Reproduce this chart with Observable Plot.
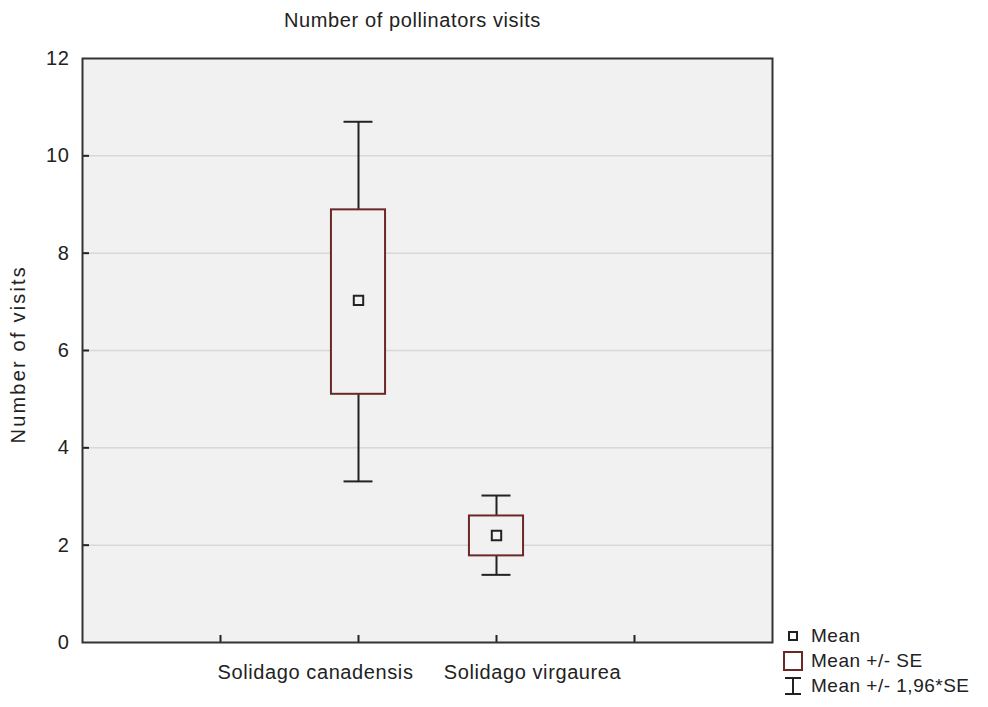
<!DOCTYPE html>
<html>
<head>
<meta charset="utf-8">
<script src="https://cdn.jsdelivr.net/npm/d3@7"></script>
<script src="https://cdn.jsdelivr.net/npm/@observablehq/plot@0.6"></script>
<style>
  html, body { margin: 0; padding: 0; background: #ffffff; }
  #wrap { position: relative; width: 988px; height: 707px; font-family: "Liberation Sans", Arial, sans-serif; color: #222; }
  #legend { position: absolute; left: 782px; top: 623px; font-size: 19px; letter-spacing: 0.5px; line-height: 26px; }
  #legend .row { display: flex; align-items: center; height: 25px; }
  #legend svg { width: 22px; height: 22px; margin-right: 7px; flex: none; }
</style>
</head>
<body>
<div id="wrap"><div id="legend"></div></div>
<script>
// ---- data ----
const categories = ["Solidago canadensis", "Solidago virgaurea"];
const means = [7.03, 2.20];
const seLow = [5.10, 1.78];
const seHigh = [8.89, 2.60];
const ciLow = [3.31, 1.39];
const ciHigh = [10.70, 3.02];
const yTicks = [0, 2, 4, 6, 8, 10, 12];
const xTicks = [1, 2, 3, 4];
const title = "Number of pollinators visits";
const yLabel = "Number of visits";
const legendLabels = ["Mean", "Mean +/- SE", "Mean +/- 1,96*SE"];

const rows = categories.map((c, i) => ({
  cat: c, pos: i + 2, mean: means[i], seLow: seLow[i], seHigh: seHigh[i], ciLow: ciLow[i], ciHigh: ciHigh[i]
}));

const W = 988, H = 707, mL = 82, mR = 216, mT = 58, mB = 65;
const plotW = W - mL - mR, plotH = H - mT - mB;
const boxHalf = 0.196, capHalf = 0.105;
const fs = 20;
const ink = "#222";
const boxColor = "#6b2828";
const bg = "#f1f1f1";

const chart = Plot.plot({
  width: W, height: H,
  marginLeft: mL, marginRight: mR, marginTop: mT, marginBottom: mB,
  style: { fontFamily: '"Liberation Sans", Arial, sans-serif', fontSize: fs + "px", color: ink, background: "transparent", letterSpacing: "0.6px" },
  x: { domain: [0, 5] },
  y: { domain: [0, 12] },
  marks: [
    Plot.frame({ fill: bg, stroke: null }),
    Plot.gridY(yTicks.filter(d => d > 0 && d < 12), { stroke: "#d8d8d8", strokeOpacity: 1, strokeWidth: 1.5 }),
    Plot.ruleX(rows, { x: "pos", y1: "ciLow", y2: "ciHigh", stroke: ink, strokeWidth: 2 }),
    Plot.ruleY(rows, { y: "ciHigh", x1: d => d.pos - capHalf, x2: d => d.pos + capHalf, stroke: ink, strokeWidth: 2 }),
    Plot.ruleY(rows, { y: "ciLow", x1: d => d.pos - capHalf, x2: d => d.pos + capHalf, stroke: ink, strokeWidth: 2 }),
    Plot.rect(rows, { x1: d => d.pos - boxHalf, x2: d => d.pos + boxHalf, y1: "seLow", y2: "seHigh", fill: bg, stroke: boxColor, strokeWidth: 2 }),
    Plot.dot(rows, { x: "pos", y: "mean", symbol: "square", r: 5.3, fill: bg, stroke: ink, strokeWidth: 2 }),
    Plot.tickY(yTicks.filter(d => d > 0 && d < 12), { y: d => d, insetRight: plotW - 7, stroke: ink, strokeWidth: 2 }),
    Plot.tickX(xTicks, { x: d => d, insetTop: plotH - 7, stroke: ink, strokeWidth: 2 }),
    Plot.frame({ stroke: "#333", strokeWidth: 2 }),
    Plot.axisY(yTicks, { tickSize: 0, tickPadding: 13, label: null, fontSize: fs, fill: ink }),
    Plot.axisX([2], { tickSize: 0, tickPadding: 22, label: null, tickFormat: d => categories[d - 2], fontSize: fs, fill: ink, dx: -43 }),
    Plot.axisX([3], { tickSize: 0, tickPadding: 22, label: null, tickFormat: d => categories[d - 2], fontSize: fs, fill: ink, dx: 36 }),
    Plot.text([title], { frameAnchor: "top", dy: -46, dx: -15, fontSize: fs, fill: ink }),
    Plot.text([yLabel], { frameAnchor: "bottom-left", textAnchor: "start", rotate: -90, dx: -58, dy: -199, fontSize: fs, fill: ink })
  ]
});
document.getElementById("wrap").prepend(chart);
// wider letter spacing for the y-axis title
chart.querySelectorAll("text").forEach(t => { if (t.textContent === yLabel) t.setAttribute("letter-spacing", "2.2px"); });

// ---- legend (HTML) ----
const icons = [
  `<svg viewBox="0 0 22 22"><rect x="7" y="7" width="8" height="8" fill="none" stroke="${ink}" stroke-width="2"/></svg>`,
  `<svg viewBox="0 0 22 22"><rect x="2" y="2" width="18" height="18" fill="none" stroke="${boxColor}" stroke-width="2"/></svg>`,
  `<svg viewBox="0 0 22 22"><line x1="11" y1="3" x2="11" y2="19" stroke="${ink}" stroke-width="2"/><line x1="3" y1="3" x2="19" y2="3" stroke="${ink}" stroke-width="2"/><line x1="3" y1="19" x2="19" y2="19" stroke="${ink}" stroke-width="2"/></svg>`
];
const legend = document.getElementById("legend");
legendLabels.forEach((t, i) => {
  const row = document.createElement("div");
  row.className = "row";
  row.innerHTML = icons[i] + `<span>${t}</span>`;
  legend.appendChild(row);
});
</script>
</body>
</html>
